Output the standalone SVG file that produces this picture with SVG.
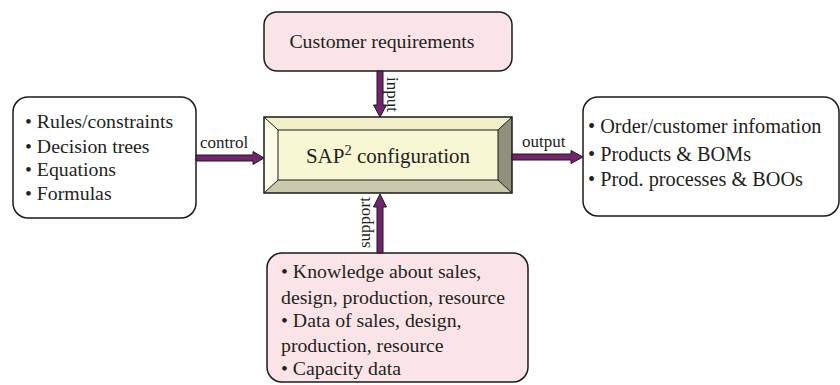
<svg xmlns="http://www.w3.org/2000/svg" width="840" height="385" viewBox="0 0 840 385" font-family="Liberation Serif, Times New Roman, serif">
<defs>
<style>
.t{font-size:19.8px;fill:#231f20}
.tr{font-size:20.3px;fill:#231f20}
.lbl{font-size:17px;fill:#231f20}
.box{stroke:#1a1a1a;stroke-width:1.5}
.pink{fill:#fbe4e7}
.white{fill:#ffffff}
.arrow{fill:#74246f;stroke:#1a1a1a;stroke-width:1}
</style>
</defs>
<rect width="840" height="385" fill="#ffffff"/>

<g id="customer-requirements">
<rect class="box pink" x="264" y="12" width="248" height="59" rx="13"/>
<text class="t" x="382" y="48" text-anchor="middle">Customer requirements</text>
</g>

<g id="sap-configuration">
<rect x="264" y="117" width="248" height="76" fill="#f7f6cf"/>
<polygon points="264,117 512,117 498,130 278,130" fill="#f0efc9"/>
<polygon points="264,117 278,130 278,180 264,193" fill="#fdfce9"/>
<polygon points="264,193 278,180 498,180 512,193" fill="#c9c9ae"/>
<polygon points="512,117 512,193 498,180 498,130" fill="#8f917d"/>
<rect x="278" y="130" width="220" height="50" fill="#f8f7d3" stroke="#1a1a1a" stroke-width="1"/>
<line x1="264" y1="117" x2="278" y2="130" stroke="#1a1a1a" stroke-width="1"/>
<line x1="512" y1="117" x2="498" y2="130" stroke="#1a1a1a" stroke-width="1"/>
<line x1="264" y1="193" x2="278" y2="180" stroke="#1a1a1a" stroke-width="1"/>
<line x1="512" y1="193" x2="498" y2="180" stroke="#1a1a1a" stroke-width="1"/>
<rect x="264" y="117" width="248" height="76" fill="none" stroke="#1a1a1a" stroke-width="1.5"/>
<text fill="#231f20" x="388" y="163" text-anchor="middle" font-size="21">SAP<tspan dy="-8" font-size="14.5">2</tspan><tspan dy="8"> configuration</tspan></text>
</g>

<g id="methods">
<rect class="box white" x="13" y="97" width="183" height="121" rx="15"/>
<text class="t" x="25" y="128">• Rules/constraints</text>
<text class="t" x="25" y="153">• Decision trees</text>
<text class="t" x="25" y="176">• Equations</text>
<text class="t" x="25" y="200">• Formulas</text>
</g>

<g id="results">
<rect class="box white" x="583" y="97" width="256" height="119" rx="15"/>
<text class="tr" x="588" y="133">• Order/customer infomation</text>
<text class="tr" x="588" y="161">• Products &amp; BOMs</text>
<text class="tr" x="588" y="186">• Prod. processes &amp; BOOs</text>
</g>

<g id="knowledge">
<rect class="box pink" x="267" y="253" width="261" height="129" rx="15"/>
<text class="t" x="281" y="278">• Knowledge about sales,</text>
<text class="t" x="281" y="304">design, production, resource</text>
<text class="t" x="281" y="327">• Data of sales, design,</text>
<text class="t" x="281" y="352">production, resource</text>
<text class="t" x="281" y="375">• Capacity data</text>
</g>

<g id="connectors">
<polygon class="arrow" points="377,71 383,71 383,105 386.5,105 380,117 373.5,105 377,105"/>
<polygon class="arrow" points="377,253 383,253 383,207 386.5,207 380,194 373.5,207 377,207"/>
<polygon class="arrow" points="196,155 253,155 253,151.5 264,158 253,164.5 253,161 196,161"/>
<polygon class="arrow" points="512,154 571,154 571,150.5 583,157 571,163.5 571,160 512,160"/>
<text class="lbl" transform="translate(386.5,77) rotate(90)">input</text>
<text class="lbl" transform="translate(369.5,248) rotate(-90)">support</text>
<text class="lbl" x="200" y="148">control</text>
<text class="lbl" x="522" y="147">output</text>
</g>
</svg>
